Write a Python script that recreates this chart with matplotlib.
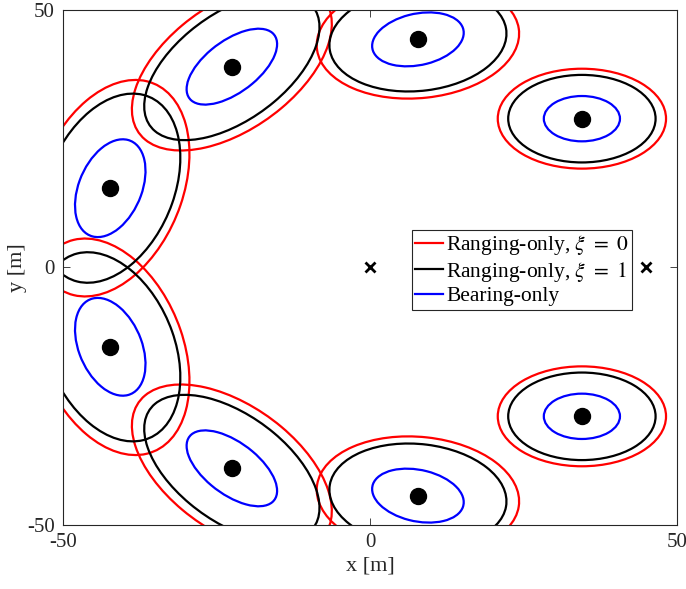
import matplotlib
matplotlib.use("Agg")
import matplotlib.pyplot as plt
from matplotlib.patches import Ellipse

plt.rcParams['font.family'] = ['Liberation Serif', 'DejaVu Serif']
plt.rcParams['mathtext.fontset'] = 'stix'

# target positions [m]
target_x = [34.5, 7.8, -22.5, -42.3, -42.3, -22.5, 7.8, 34.5]
target_y = [28.9, 44.3, 39.0, 15.4, -15.4, -39.0, -44.3, -28.9]

# anchor positions [m]
anchor_x = [0, 45]
anchor_y = [0, 0]

# error ellipses: full width, full height [m], tilt [deg]
range0_w = [27.4, 33.1, 40.0, 43.2, 43.2, 40.0, 33.1, 27.4]
range0_h = [19.4, 22.8, 22.8, 23.8, 23.8, 22.8, 22.8, 19.4]
range0_ang = [0, 7.4, 45, 74, -74, -45, -7.4, 0]

range1_w = [24.0, 29.0, 35.4, 37.8, 37.8, 35.4, 29.0, 24.0]
range1_h = [17.0, 20.0, 19.4, 21.0, 21.0, 19.4, 20.0, 17.0]
range1_ang = [0, 8.5, 45, 73.5, -73.5, -45, -8.5, 0]

bearing_w = [12.4, 15.3, 18.6, 19.6, 19.6, 18.6, 15.3, 12.4]
bearing_h = [8.8, 9.9, 9.4, 10.4, 10.4, 9.4, 9.9, 8.8]
bearing_ang = [0, 17, 45, 73, -73, -45, -17, 0]

fig = plt.figure(figsize=(6.86, 5.89), dpi=100)
ax = fig.add_axes([0.0918, 0.1087, 0.8952, 0.8743])

series = [
    (range0_w, range0_h, range0_ang, 'red', r'Ranging-only, $\xi$ $=$ $0$'),
    (range1_w, range1_h, range1_ang, 'black', r'Ranging-only, $\xi$ $=$ $1$'),
    (bearing_w, bearing_h, bearing_ang, 'blue', 'Bearing-only'),
]
for w, h, ang, col, lab in series:
    for i in range(len(target_x)):
        e = Ellipse((target_x[i], target_y[i]), w[i], h[i], angle=ang[i],
                    fill=False, edgecolor=col, lw=1.6)
        ax.add_patch(e)
    ax.plot([], [], color=col, lw=1.6, label=lab)

ax.plot(target_x, target_y, 'o', color='black', markersize=11.5)
ax.plot(anchor_x, anchor_y, 'x', color='black', markersize=7.5, mew=2)

ax.set_xlim(-50, 50)
ax.set_ylim(-50, 50)
ax.set_xticks([-50, 0, 50])
ax.set_yticks([-50, 0, 50])
ax.set_xticklabels(['-50', '0', '50'])
ax.set_yticklabels(['-50', '0', '50'])
ax.tick_params(direction='in', top=True, right=True, labelsize=15,
               length=5, width=0.6, color='#262626', pad=6, labelcolor='#262626')
for s in ax.spines.values():
    s.set_linewidth(0.8)
    s.set_color('#262626')
ax.set_xlabel('x [m]', fontsize=16, labelpad=3, color='#262626')
ax.set_ylabel('y [m]', fontsize=16, labelpad=0, color='#262626')

leg = ax.legend(loc='upper right', bbox_to_anchor=(0.927, 0.573),
                borderaxespad=0, fontsize=15.5, handlelength=1.3,
                handletextpad=0.15, borderpad=0.15, labelspacing=0.12,
                fancybox=False, framealpha=1)
leg.get_frame().set_edgecolor('#262626')
leg.get_frame().set_linewidth(0.8)

fig.savefig('out.png', dpi=100)
